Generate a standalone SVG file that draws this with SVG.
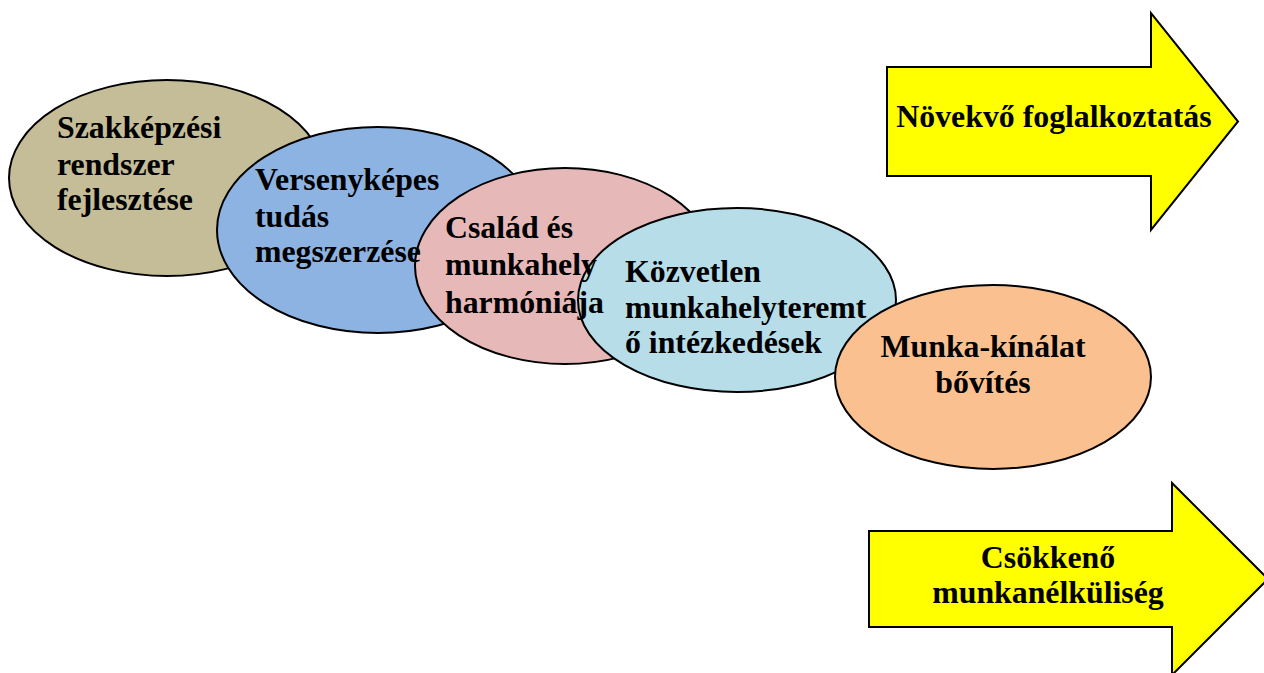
<svg xmlns="http://www.w3.org/2000/svg" width="1264" height="673" viewBox="0 0 1264 673">
<style>
.sh{stroke:#000;stroke-width:2}
.t{font-family:"Liberation Serif","Times New Roman",serif;font-weight:bold;font-size:31.8px;fill:#000}
.c{text-anchor:middle}
</style>
<rect width="1264" height="673" fill="#fff"/>
<g id="arrow-novekvo">
<path class="sh" fill="#ffff00" d="M887,67 H1151 V13 L1238,121.5 L1151,230 V176 H887 Z"/>
</g>
<g id="arrow-csokkeno">
<path class="sh" fill="#ffff00" d="M869,531 H1172 V483 L1268,579 L1172,675 V627 H869 Z"/>
</g>
<g id="node-szakkepzesi">
<ellipse class="sh" fill="#c4bd97" cx="167" cy="178" rx="158" ry="98"/>
</g>
<g id="node-versenykepes">
<ellipse class="sh" fill="#8db3e2" cx="378" cy="230" rx="161" ry="103"/>
</g>
<g id="node-csalad">
<ellipse class="sh" fill="#e6b9b8" cx="565" cy="266" rx="150" ry="98"/>
</g>
<g id="node-kozvetlen">
<ellipse class="sh" fill="#b7dde8" cx="737" cy="300" rx="159" ry="92"/>
</g>
<g id="node-munkakinalat">
<ellipse class="sh" fill="#fac090" cx="993" cy="377" rx="158" ry="92"/>
</g>
<g id="labels">
<text class="t" x="57" y="138">Szakképzési</text>
<text class="t" x="57" y="175">rendszer</text>
<text class="t" x="57" y="210">fejlesztése</text>
<text class="t" x="255" y="190">Versenyképes</text>
<text class="t" x="255" y="227">tudás</text>
<text class="t" x="255" y="262">megszerzése</text>
<text class="t" x="445" y="238">Család és</text>
<text class="t" x="445" y="275">munkahely</text>
<text class="t" x="445" y="313">harmóniája</text>
<text class="t" x="625" y="282">Közvetlen</text>
<text class="t" x="625" y="318">munkahelyteremt</text>
<text class="t" x="625" y="353">ő intézkedések</text>
<text class="t c" x="983" y="357">Munka-kínálat</text>
<text class="t c" x="983" y="393">bővítés</text>
<text class="t c" x="1054" y="127">Növekvő foglalkoztatás</text>
<text class="t c" x="1048" y="568">Csökkenő</text>
<text class="t c" x="1048" y="603">munkanélküliség</text>
</g>
<g id="connectors"/>
</svg>
